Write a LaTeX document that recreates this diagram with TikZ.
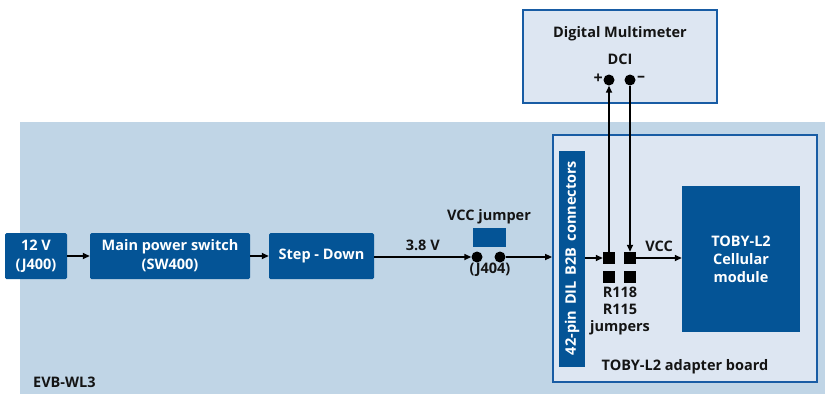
\documentclass[tikz,border=0pt]{standalone}
\usepackage{fontspec}
\setmainfont{Open Sans}
\usetikzlibrary{arrows.meta}
\definecolor{dblue}{RGB}{4,84,150}
\definecolor{bgblue}{RGB}{192,213,230}
\definecolor{lblue}{RGB}{221,230,242}
\definecolor{bord}{RGB}{24,92,164}
\definecolor{txt}{RGB}{20,20,20}
\newcommand{\fnt}{\fontsize{14.5}{19}\selectfont\bfseries}
\tikzset{
  box/.style={draw=none, fill=dblue, rounded corners=1.5pt, text=white, align=center, font=\fnt, inner sep=0pt},
  panel/.style={draw=bord, line width=1.8pt, fill=lblue, inner sep=0pt},
  lbl/.style={text=txt, font=\fnt, inner sep=0pt, align=center},
  sq/.style={fill=black, minimum size=12pt, inner sep=0pt},
  dot/.style={circle, fill=black, minimum size=11pt, inner sep=0pt},
  arr/.style={line width=1.6pt, -{Triangle[length=7pt,width=6pt]}},
}
\begin{document}
\begin{tikzpicture}[x=1pt,y=-1pt]
\useasboundingbox (0,0) rectangle (825,394);
% EVB background
\fill[bgblue] (20,122) rectangle (825,394);
\node[lbl, anchor=west] (evb) at (33,382) {EVB-WL3};
% Multimeter
\node[panel, minimum width=194pt, minimum height=93pt] (dmm) at (620,56.5) {};
\node[lbl] (dmmt) at (620,34) {Digital Multimeter};
\node[lbl] (dci) at (620,59) {DCI};
\node[dot] (dp) at (609,80) {};
\node[dot] (dm) at (630,80) {};
\node[lbl, anchor=east, font=\fontsize{16}{16}\selectfont\bfseries] (plus) at (603,79) {+};
\node[lbl, anchor=west, font=\fontsize{16}{16}\selectfont\bfseries] (minus) at (637,79) {\textendash};
% adapter board
\node[panel, minimum width=264pt, minimum height=247pt] (adapter) at (685,258.5) {};
\node[lbl] (adt) at (685,367) {TOBY-L2 adapter board};
\node[box, rounded corners=0pt, minimum width=26pt, minimum height=216pt] (bar) at (572,259) {};
\node[rotate=90, text=white, font=\fnt] (bart) at (572,258) {42-pin\hspace{6pt}DIL\hspace{6pt}B2B\hspace{6pt}connectors};
\node[box, rounded corners=0pt, minimum width=118pt, minimum height=146pt, font=\fontsize{14.5}{18}\selectfont\bfseries] (toby) at (741,259) {TOBY-L2\\Cellular\\module};
\node[sq] (s1) at (609,258) {};
\node[sq] (s2) at (630,258) {};
\node[sq] (s3) at (609,277) {};
\node[sq] (s4) at (630,277) {};
\node[lbl, align=center, font=\fontsize{14.5}{17}\selectfont\bfseries] (rj) at (620,311) {R118\\R115\\jumpers};
% left chain
\node[box, minimum width=62pt, minimum height=46pt] (v12) at (36,256) {12 V\\(J400)};
\node[box, minimum width=160pt, minimum height=46pt] (sw) at (170,256) {Main power switch\\(SW400)};
\node[box, minimum width=105pt, minimum height=46pt] (step) at (321.5,256) {Step - Down};
% J404
\node[fill=dblue, minimum width=33pt, minimum height=19pt, inner sep=0pt] (jr) at (489.5,237.5) {};
\node[lbl] (jt) at (489,217) {VCC jumper};
\node[dot] (j1) at (477,257) {};
\node[dot] (j2) at (500,257) {};
\node[lbl] (jl) at (490,270) {(J404)};
% connectors
\draw[arr] (v12.east) -- (sw.west);
\draw[arr] (sw.east) -- (step.west);
\draw[arr] (step.east |- j1) -- node[lbl, above=6pt] {3.8 V} (j1.west);
\draw[arr] (j2.east) -- (j2 -| adapter.west);
\draw[arr] (bar.east |- s1) -- (s1.west);
\draw[arr] (s2.east) -- node[lbl, above=6pt] {VCC} (s2 -| toby.west);
\draw[arr] (s1.north) -- (dp.south);
\draw[arr] (dm.south) -- (s2.north);
\end{tikzpicture}
\end{document}
